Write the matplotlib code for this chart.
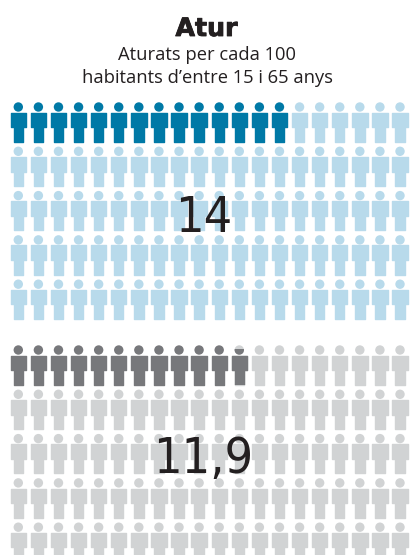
import math
import matplotlib
matplotlib.use("Agg")
import matplotlib.pyplot as plt
import matplotlib.patheffects as pe
from matplotlib.patches import Circle, Polygon, Rectangle

title = "Atur"
subtitle = ["Aturats per cada 100", "habitants d\u2019entre 15 i 65 anys"]
values = [14, 11.9]
value_labels = ["14", "11,9"]
n_cols = 20
n_rows = 5

colors_on = ["#0079a6", "#77787b"]
colors_off = ["#b8daeb", "#d1d3d4"]
block_tops = [107, 350]
label_base = [232, 473]
ink = "#231f20"

col_x0, col_dx = 18.3, 20.09
row_dy = 44.3

# person outline, relative to head centre (the edge stroke rounds it and adds 0.7px)
body = [(-7.7, 5.6), (7.7, 5.6), (7.7, 20.2), (4.7, 20.2), (4.7, 34.6),
        (-4.7, 34.6), (-4.7, 20.2), (-7.7, 20.2)]
head_r = 4.7
person_top, person_h = -4.7, 40.0


def person(ax, x, y, color, frac=1.0):
    shapes = [Circle((x, y), head_r, fc=color, lw=0),
              Polygon([(x + a, y + b) for a, b in body], closed=True,
                      fc=color, ec=color, lw=1.0, joinstyle="round")]
    clip = None
    if frac < 1:
        # fill from the feet upward
        clip_h = person_h * frac
        clip = Rectangle((x - 12, y + person_top + person_h - clip_h), 24, clip_h,
                         transform=ax.transData)
    for s in shapes:
        ax.add_patch(s)
        if clip is not None:
            s.set_clip_path(clip)


fig = plt.figure(figsize=(4.11, 5.55), dpi=100)
ax = fig.add_axes([0, 0, 1, 1])
ax.set_xlim(0, 411)
ax.set_ylim(555, 0)
ax.axis("off")

for value, on, off, top in zip(values, colors_on, colors_off, block_tops):
    whole = math.floor(value)
    for r in range(n_rows):
        for c in range(n_cols):
            x = col_x0 + c * col_dx
            y = top + r * row_dy
            i = r * n_cols + c
            if i < whole:
                person(ax, x, y, on)
                continue
            person(ax, x, y, off)
            if i == whole and value > whole:
                person(ax, x, y, on, value - whole)

t = ax.text(206.5, 36, title, ha="center", va="baseline", fontsize=18.2,
            family="DejaVu Sans", weight="bold", color=ink)
t.set_path_effects([pe.withStroke(linewidth=0.6, foreground=ink)])
ax.text(207, 55, subtitle[0], ha="center", va="center", fontsize=13.2,
        family="Open Sans", color=ink)
ax.text(207, 78, subtitle[1], ha="center", va="center", fontsize=13.2,
        family="Open Sans", color=ink)
for s, yy in zip(value_labels, label_base):
    ax.text(203.5, yy, s, ha="center", va="baseline", fontsize=36,
            family="DejaVu Sans", stretch="condensed", color=ink)

fig.savefig("out.png", dpi=100)
